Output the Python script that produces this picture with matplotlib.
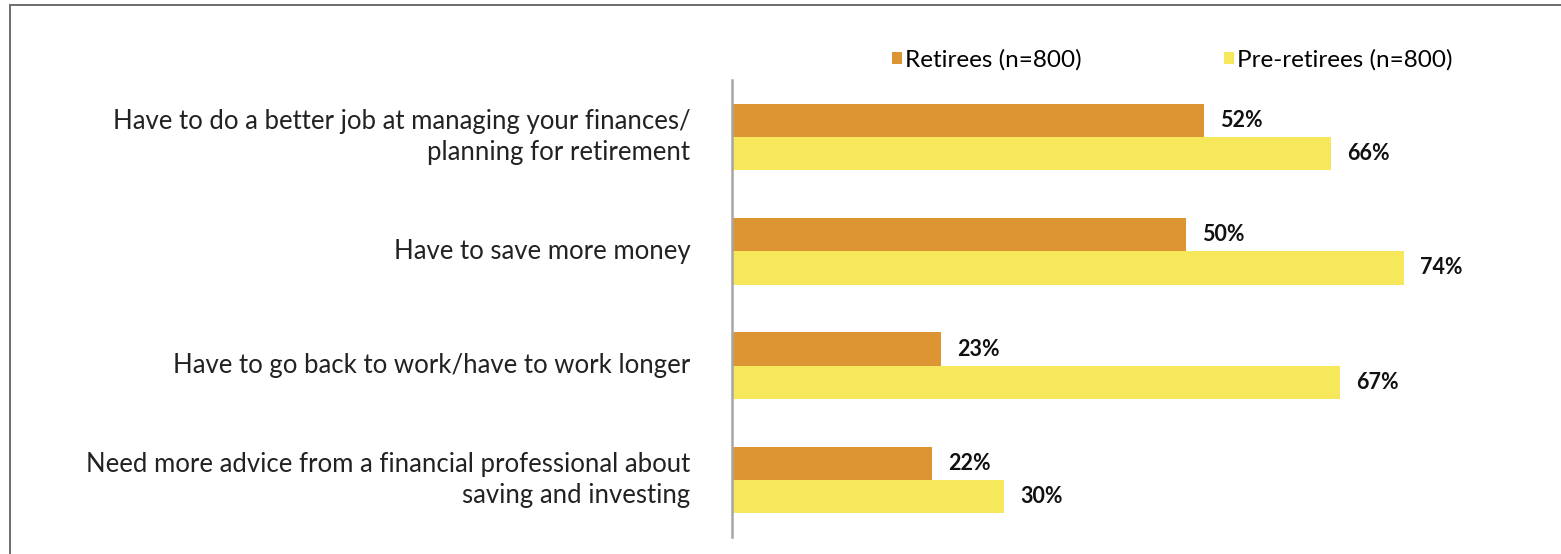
import matplotlib
matplotlib.use("Agg")
import matplotlib.pyplot as plt
from matplotlib.lines import Line2D
import numpy as np

plt.rcParams['font.family'] = ['Lato', 'DejaVu Sans']

categories = [
    "Have to do a better job at managing your finances/\nplanning for retirement",
    "Have to save more money",
    "Have to go back to work/have to work longer",
    "Need more advice from a financial professional about\nsaving and investing",
]
retirees = [52, 50, 23, 22]
pre_retirees = [66, 74, 67, 30]
series_names = ["Retirees (n=800)", "Pre-retirees (n=800)"]
colors = ["#DD9432", "#F6E85A"]

fig = plt.figure(figsize=(15.61, 5.54), dpi=100)
ax = fig.add_axes([732 / 1561, 17 / 554, 1 - 732 / 1561, 457 / 554])

y = np.arange(len(categories))
h = 0.29
b1 = ax.barh(y - h / 2, retirees, height=h, color=colors[0], label=series_names[0])
b2 = ax.barh(y + h / 2, pre_retirees, height=h, color=colors[1], label=series_names[1])

for bars, vals in ((b1, retirees), (b2, pre_retirees)):
    for bar, v in zip(bars, vals):
        ax.annotate(f"{v}%", (v, bar.get_y() + bar.get_height() / 2),
                    xytext=(16, 0), textcoords="offset pixels",
                    ha="left", va="center", fontsize=15.5, fontweight="bold",
                    color="#111111")

ax.set_xlim(0, 829 / 9.08)
ax.set_ylim(3.5, -0.5)
ax.set_yticks(y)
ax.set_yticklabels(categories, fontsize=18.5, color="#222222",
                   linespacing=1.3, multialignment="right", va="center")
ax.tick_params(axis="y", length=0, pad=30)
ax.set_xticks([])
for s in ("top", "right", "bottom"):
    ax.spines[s].set_visible(False)
ax.spines["left"].set_color("#A6A6A6")
ax.spines["left"].set_linewidth(1.8)

fig.legend(handles=[b1, b2], labels=series_names, loc="center left",
           bbox_to_anchor=(892 / 1561, 1 - 60 / 554), ncol=2, frameon=False,
           fontsize=17.5, handlelength=0.42, handleheight=0.42,
           handletextpad=0.12, columnspacing=5.85, borderpad=0, borderaxespad=0)

# outer frame
fig.add_artist(Line2D([10 / 1561, 1], [1 - 5 / 554, 1 - 5 / 554],
                      transform=fig.transFigure, color="#6E6E6E", lw=1.4))
fig.add_artist(Line2D([10 / 1561, 10 / 1561], [0, 1 - 5 / 554],
                      transform=fig.transFigure, color="#6E6E6E", lw=1.4))

fig.savefig("out.png", dpi=100)
